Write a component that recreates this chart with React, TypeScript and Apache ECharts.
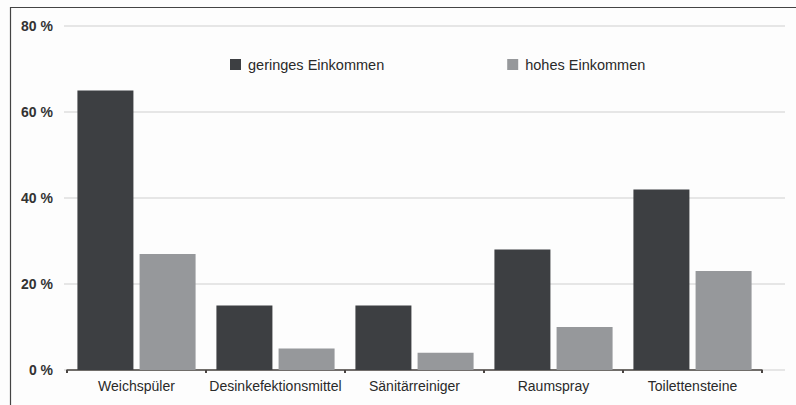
import React, { useEffect, useRef } from "react";
import * as echarts from "echarts";

const categories = ["Weichspüler", "Desinkefektionsmittel", "Sänitärreiniger", "Raumspray", "Toilettensteine"];
const seriesNames = ["geringes Einkommen", "hohes Einkommen"];
const lowIncome = [65, 15, 15, 28, 42];
const highIncome = [27, 5, 4, 10, 23];
const yTicks = [0, 20, 40, 60, 80];

const FONT = "'Liberation Sans', Arial, Helvetica, sans-serif";

export default function App() {
  const ref = useRef<HTMLDivElement>(null);
  useEffect(() => {
    if (!ref.current) return;
    const chart = echarts.init(ref.current, undefined, { renderer: "svg" });
    const yMax = yTicks[yTicks.length - 1];
    chart.setOption({
      animation: false,
      backgroundColor: "#fdfdfd",
      textStyle: { fontFamily: FONT },
      legend: {
        data: seriesNames,
        left: 225,
        top: 52,
        itemWidth: 11,
        itemHeight: 11,
        itemGap: 123,
        icon: "rect",
        textStyle: { fontFamily: FONT, fontSize: 14.5, color: "#2a2a2a", padding: [0, 0, 0, 2] },
      },
      grid: [
        { left: 67, right: 34, top: 26, bottom: 35 },
        { left: 64, right: 11, top: 26, bottom: 35 },
      ],
      xAxis: [
        {
          type: "category",
          gridIndex: 0,
          data: categories,
          axisLine: { lineStyle: { color: "#4a4542", width: 1.5 } },
          axisTick: { show: true, length: 3, lineStyle: { color: "#4a4542", width: 2 } },
          axisLabel: { color: "#2a2a2a", fontSize: 14, fontFamily: FONT, margin: 9, interval: 0 },
        },
        { type: "category", gridIndex: 1, show: false, data: categories },
      ],
      yAxis: [
        {
          type: "value",
          gridIndex: 0,
          min: 0,
          max: yMax,
          interval: 20,
          axisLine: { show: false },
          axisTick: { show: false },
          splitLine: { show: false },
          axisLabel: {
            color: "#333",
            fontSize: 14,
            fontFamily: FONT,
            fontWeight: "bold",
            margin: 14,
            formatter: (v: number) => `${v} %`,
          },
        },
        {
          type: "value",
          gridIndex: 1,
          min: 0,
          max: yMax,
          interval: 20,
          axisLine: { show: false },
          axisTick: { show: false },
          axisLabel: { show: false },
          splitLine: { show: true, lineStyle: { color: "#e6e6e6", width: 2 } },
        },
      ],
      series: [
        {
          name: seriesNames[0],
          type: "bar",
          xAxisIndex: 0,
          yAxisIndex: 0,
          data: lowIncome,
          barWidth: 56,
          barGap: "11%",
          itemStyle: { color: "#3d3f42" },
          z: 3,
        },
        {
          name: seriesNames[1],
          type: "bar",
          xAxisIndex: 0,
          yAxisIndex: 0,
          data: highIncome,
          barWidth: 56,
          barGap: "11%",
          itemStyle: { color: "#96989b" },
          z: 3,
        },
      ],
      graphic: [
        { type: "line", shape: { x1: 10, y1: 7.5, x2: 796, y2: 7.5 }, style: { stroke: "#444", lineWidth: 1.2 }, silent: true },
        { type: "line", shape: { x1: 10.5, y1: 7, x2: 10.5, y2: 405 }, style: { stroke: "#444", lineWidth: 1.2 }, silent: true },
      ],
    });
    return () => chart.dispose();
  }, []);
  return (
    <div
      ref={ref}
      style={{ position: "absolute", left: 0, top: 0, width: 796, height: 405 }}
    />
  );
}
